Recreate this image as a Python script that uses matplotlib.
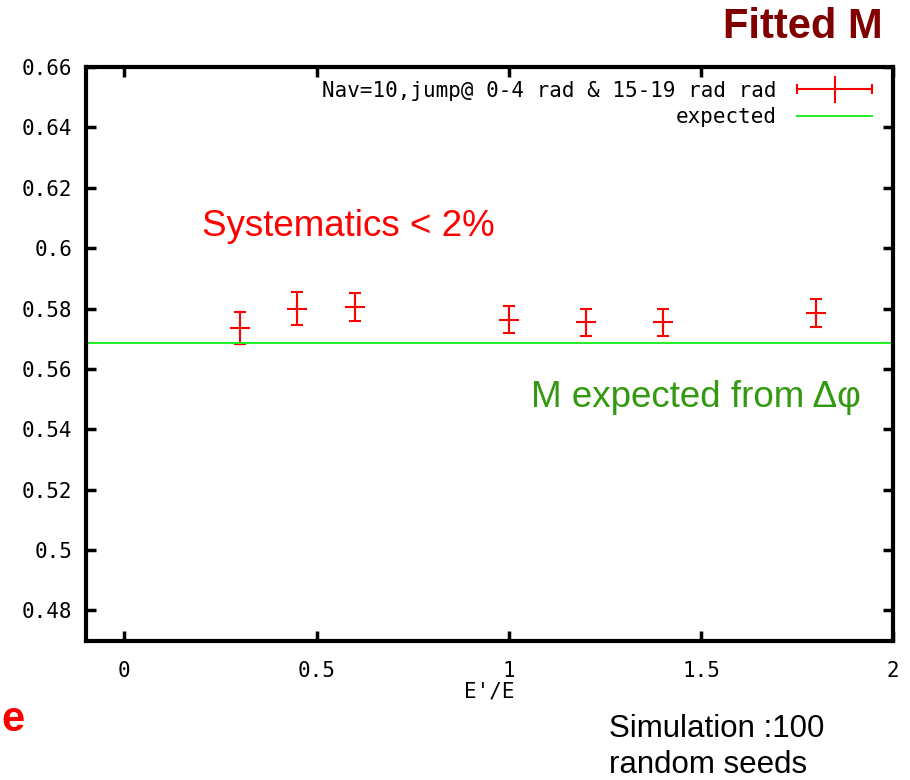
import matplotlib
matplotlib.use("Agg")
import matplotlib.pyplot as plt
from matplotlib.legend_handler import HandlerBase
from matplotlib.lines import Line2D

# data
x_vals = [0.3, 0.45, 0.6, 1.0, 1.2, 1.4, 1.8]
m_vals = [0.5735, 0.5800, 0.5805, 0.5763, 0.5755, 0.5755, 0.5785]
m_err = [0.0052, 0.0054, 0.0047, 0.0044, 0.0045, 0.0045, 0.0045]
m_expected = 0.5686

x_ticks = [0, 0.5, 1, 1.5, 2]
y_ticks = [0.48, 0.5, 0.52, 0.54, 0.56, 0.58, 0.6, 0.62, 0.64, 0.66]

data_label = "Nav=10,jump@ 0-4 rad & 15-19 rad rad"
exp_label = "expected"

MONO = "DejaVu Sans Mono"
SANS = "Liberation Sans"
TICK_FS = 15


class GnuErrHandler(HandlerBase):
    # gnuplot-style key sample: horizontal line with end caps and centre tick
    def create_artists(self, legend, orig, xd, yd, w, h, fs, trans):
        y = h / 2 - yd
        x0, x1 = -xd, w - xd
        c = (x0 + x1) / 2
        arts = [Line2D([x0, x1], [y, y], color="red", lw=1.5)]
        for xx, hh in ((x0, 3), (x1, 3), (c, 9)):
            arts.append(Line2D([xx, xx], [y - hh, y + hh], color="red", lw=1.5))
        for a in arts:
            a.set_transform(trans)
        return arts


fig = plt.figure(figsize=(9.1, 7.8), dpi=100)
ax = fig.add_axes([0.0945, 0.178, 0.887, 0.736])

ax.errorbar(x_vals, m_vals, yerr=m_err, fmt="+", color="red", ms=14, mew=1.5,
            elinewidth=1.5, capsize=4, capthick=1.5)
ax.axhline(m_expected, color="#22ee22", lw=1.4)

ax.set_xlim(-0.1, 1.99)
ax.set_ylim(0.4698, 0.66)
ax.set_xticks(x_ticks)
ax.set_xticklabels([f"{v:g}" for v in x_ticks], family=MONO, fontsize=TICK_FS)
ax.set_yticks(y_ticks)
ax.set_yticklabels([f"{v:g}" for v in y_ticks], family=MONO, fontsize=TICK_FS)
ax.tick_params(direction="in", length=7, width=2.5, top=True, right=True,
               color="black")
ax.tick_params(axis="y", pad=10)
ax.tick_params(axis="x", pad=14)
for s in ax.spines.values():
    s.set_linewidth(3)
ax.set_xlabel("E'/E", family=MONO, fontsize=TICK_FS, labelpad=1)

h1 = Line2D([], [], color="red")
h2 = Line2D([], [], color="#22ee22", lw=1.4)
ax.legend([h1, h2], [data_label, exp_label], loc="upper right",
          bbox_to_anchor=(0.991, 1.0),
          frameon=False, markerfirst=False, handlelength=3.6,
          handler_map={h1: GnuErrHandler()},
          prop={"family": MONO, "size": TICK_FS}, labelspacing=0.3,
          borderaxespad=0.25, borderpad=0.4, handletextpad=1.0)

fig.text(0.97, 0.965, "Fitted M", color="#800000", fontsize=30,
         fontweight="bold", family=SANS, ha="right", va="center")
fig.text(0.222, 0.709, "Systematics < 2%", color="red", fontsize=26.5,
         family=SANS, va="center")
fig.text(0.583, 0.490, "M expected from \u0394\u03c6", color="#339911",
         fontsize=26.5, family=SANS, va="center")
fig.text(0.669, 0.042, "Simulation :100\nrandom seeds", color="black",
         fontsize=22.5, family=SANS, va="center", linespacing=1.25)
fig.text(0.001, 0.077, "e", color="red", fontsize=30, fontweight="bold",
         family=SANS, va="center")

fig.savefig("out.png", dpi=100)
